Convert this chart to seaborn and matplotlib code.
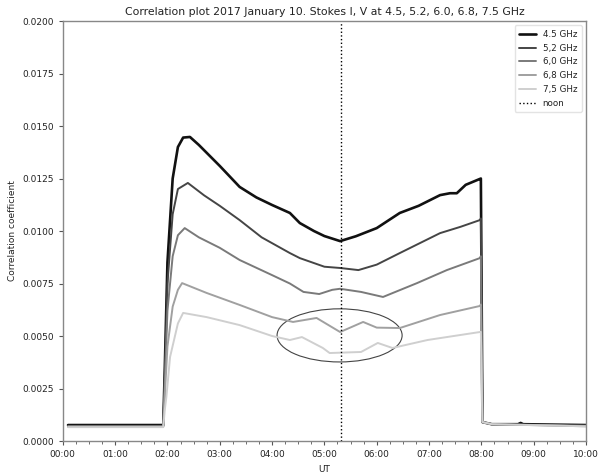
import numpy as np
import pandas as pd
import seaborn as sns
import matplotlib
matplotlib.use('Agg')
import matplotlib.pyplot as plt
from matplotlib.patches import Ellipse
from matplotlib.ticker import FuncFormatter, MultipleLocator

# hours UT, correlation coefficient
t_45 = [0.1, 1.92, 1.95, 2.0, 2.1, 2.2, 2.3, 2.43, 2.6, 2.8, 3.0, 3.38, 3.7, 4.0, 4.34, 4.53, 4.8, 5.0, 5.3,
        5.6, 6.0, 6.44, 6.8, 7.21, 7.4, 7.53, 7.7, 7.97, 7.99, 8.02, 8.2, 8.7, 8.75, 8.8, 10.0]
v_45 = [0.00076, 0.00076, 0.0035, 0.0085, 0.0125, 0.0140, 0.01445, 0.01448, 0.0141, 0.0136, 0.0131, 0.0121,
        0.0116, 0.01124, 0.01086, 0.01038, 0.0100, 0.00976, 0.00952, 0.00975, 0.01014, 0.01086, 0.0112,
        0.01171, 0.0118, 0.0118, 0.0122, 0.01248, 0.0125, 0.0009, 0.0008, 0.0008, 0.00086, 0.0008, 0.00076]

t_52 = [0.1, 1.92, 1.95, 2.0, 2.1, 2.2, 2.39, 2.7, 3.0, 3.38, 3.8, 4.34, 4.53, 5.0, 5.3, 5.65, 6.0, 6.44,
        7.21, 7.6, 7.97, 7.99, 8.02, 8.2, 10.0]
v_52 = [0.00072, 0.00072, 0.0032, 0.0075, 0.0108, 0.0120, 0.01229, 0.0117, 0.0112, 0.01052, 0.0097,
        0.00895, 0.00871, 0.0083, 0.00824, 0.00814, 0.0084, 0.00895, 0.0099, 0.0102, 0.01052, 0.0106,
        0.0009, 0.0008, 0.00074]

t_60 = [0.1, 1.92, 1.95, 2.0, 2.1, 2.2, 2.33, 2.6, 3.0, 3.38, 4.0, 4.34, 4.6, 4.9, 5.15, 5.3, 5.7, 6.12,
        6.77, 7.34, 7.97, 7.99, 8.02, 8.2, 10.0]
v_60 = [0.0007, 0.0007, 0.0028, 0.0062, 0.0088, 0.0098, 0.01014, 0.0097, 0.0092, 0.00862, 0.0079, 0.0075,
        0.0071, 0.0070, 0.0072, 0.00725, 0.0071, 0.00686, 0.00752, 0.00814, 0.00871, 0.0088, 0.0009,
        0.0008, 0.00072]

t_68 = [0.1, 1.92, 1.95, 2.0, 2.1, 2.2, 2.28, 2.75, 3.38, 4.0, 4.4, 4.85, 5.3, 5.74, 6.0, 6.44, 7.21,
        7.97, 7.99, 8.02, 8.2, 10.0]
v_68 = [0.00068, 0.00068, 0.0022, 0.0045, 0.0064, 0.0072, 0.00752, 0.00705, 0.00648, 0.0059, 0.00567,
        0.00586, 0.00519, 0.00567, 0.0054, 0.00538, 0.006, 0.00643, 0.0065, 0.0009, 0.0008, 0.0007]

t_75 = [0.1, 1.92, 1.95, 1.98, 2.05, 2.2, 2.3, 2.75, 3.38, 4.0, 4.34, 4.57, 4.97, 5.1, 5.7, 6.02, 6.3,
        6.97, 7.97, 7.99, 8.02, 8.2, 10.0]
v_75 = [0.00066, 0.00066, 0.0015, 0.0021, 0.0040, 0.0056, 0.0061, 0.0059, 0.00552, 0.005, 0.00481, 0.00495,
        0.00443, 0.00419, 0.00424, 0.00467, 0.00443, 0.00481, 0.00519, 0.0052, 0.0009, 0.0008, 0.0007]

labels = ['4.5 GHz', '5,2 GHz', '6,0 GHz', '6,8 GHz', '7,5 GHz']
colors = ['#111111', '#454545', '#7a7a7a', '#a0a0a0', '#cfcfcf']
noon = 5.31

frames = []
for lab, tt, vv in zip(labels, [t_45, t_52, t_60, t_68, t_75], [v_45, v_52, v_60, v_68, v_75]):
    frames.append(pd.DataFrame({'UT': tt, 'corr': vv, 'freq': lab}))
df = pd.concat(frames, ignore_index=True)

sns.set_style('white')
plt.rcParams['font.family'] = ['DejaVu Sans']

fig = plt.figure(figsize=(5.98, 4.74), dpi=100)
ax = fig.add_axes([0.105, 0.0696, 0.875, 0.886])

for lab, col in zip(labels, colors):
    sub = df[df['freq'] == lab]
    sns.lineplot(data=sub, x='UT', y='corr', color=col, lw=1.9 if lab == '4.5 GHz' else 1.4,
                 sort=False, estimator=None, ax=ax, label=lab)

ax.axvline(noon, color='black', ls=':', lw=1, label='noon')

ell = Ellipse((5.29, 0.00503), 2.39, 0.00253, fill=False, edgecolor='#444444', lw=0.8)
ax.add_patch(ell)

ax.set_xlim(0, 10)
ax.set_ylim(0, 0.02)
ax.xaxis.set_major_locator(MultipleLocator(1))
ax.xaxis.set_minor_locator(MultipleLocator(0.25))
ax.yaxis.set_major_locator(MultipleLocator(0.0025))
ax.xaxis.set_major_formatter(FuncFormatter(lambda x, p: '%02d:%02d' % (int(x), round((x % 1) * 60))))
ax.yaxis.set_major_formatter(FuncFormatter(lambda y, p: '%.4f' % y))
ax.tick_params(axis='both', which='both', direction='out', colors='#555555', labelcolor='#222222',
               labelsize=6.5, bottom=True, left=True)
ax.tick_params(which='major', length=3, width=0.8)
ax.tick_params(which='minor', length=1.8, width=0.6)
for s in ax.spines.values():
    s.set_color('#888888')
    s.set_linewidth(1.0)

ax.set_xlabel('UT', fontsize=6.5, color='#222222')
ax.set_ylabel('Correlation coefficient', fontsize=6.5, color='#222222')
ax.set_title('Correlation plot 2017 January 10. Stokes I, V at 4.5, 5.2, 6.0, 6.8, 7.5 GHz',
             fontsize=7.8, color='#222222', pad=4)

leg = ax.legend(loc='upper right', fontsize=6.3, frameon=True, edgecolor='#dddddd', fancybox=True,
                handlelength=1.9, borderpad=0.5, labelspacing=0.55)
for txt in leg.get_texts():
    txt.set_color('#222222')

fig.savefig('out.png', dpi=100)
